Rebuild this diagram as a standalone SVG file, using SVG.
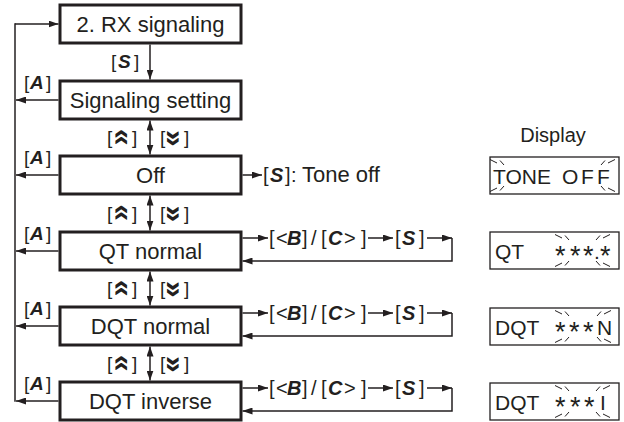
<svg xmlns="http://www.w3.org/2000/svg" xmlns:xlink="http://www.w3.org/1999/xlink" width="624" height="422" viewBox="0 0 624 422">
<defs>
<style>
.box{fill:#fff;stroke:#231f20;stroke-width:3}
.dbox{fill:#fff;stroke:#231f20;stroke-width:1.3}
.ln{fill:none;stroke:#231f20;stroke-width:1.5}
.ray{fill:none;stroke:#231f20;stroke-width:1}
text{font-family:"Liberation Sans",Arial,sans-serif;fill:#231f20}
.t{font-size:22px;text-anchor:middle}
.k{font-size:19px}
.r{font-size:20px}
.bi{font-weight:bold;font-style:italic}
.ch{font-size:30px;font-weight:bold}
.d{font-size:21px}
.ast{font-size:27px}
</style>
<marker id="ah" viewBox="0 0 10 7" refX="10" refY="3.5" markerWidth="10" markerHeight="7" markerUnits="userSpaceOnUse" orient="auto-start-reverse">
<path d="M0,0 L10,3.5 L0,7 z" fill="#231f20"/>
</marker>
<g id="rayL">
<path class="ray" d="M0,-16 L7,-12.5 M10,-15 L14,-10.5 M0,16 L7,12.5 M10,15 L14,10.5"/>
</g>
<g id="rayR">
<path class="ray" d="M-14,-10.5 L-10,-15 M-7,-12.5 L0,-16 M-14,10.5 L-10,15 M-7,12.5 L0,16"/>
</g>
</defs>
<rect width="624" height="422" fill="#fff"/>

<g id="connectors">
<path class="ln" d="M15,23.25 V401.75"/>
<path class="ln" d="M15,24 H58.5" marker-end="url(#ah)"/>
<path class="ln" d="M58.5,100 H16" marker-end="url(#ah)"/>
<path class="ln" d="M58.5,175 H16" marker-end="url(#ah)"/>
<path class="ln" d="M58.5,251 H16" marker-end="url(#ah)"/>
<path class="ln" d="M58.5,326 H16" marker-end="url(#ah)"/>
<path class="ln" d="M58.5,401 H16" marker-end="url(#ah)"/>
<path class="ln" d="M150,44.5 V79.5" marker-end="url(#ah)"/>
<path class="ln" d="M150,120.5 V154.5" marker-start="url(#ah)" marker-end="url(#ah)"/>
<path class="ln" d="M150,195.5 V230.5" marker-start="url(#ah)" marker-end="url(#ah)"/>
<path class="ln" d="M150,271.5 V305.5" marker-start="url(#ah)" marker-end="url(#ah)"/>
<path class="ln" d="M150,346.5 V380.5" marker-start="url(#ah)" marker-end="url(#ah)"/>
<path class="ln" d="M242.5,175 H262" marker-end="url(#ah)"/>
<path class="ln" d="M242.5,238 H268" marker-end="url(#ah)"/>
<path class="ln" d="M368,238 H393" marker-end="url(#ah)"/>
<path class="ln" d="M427,238 H452" marker-end="url(#ah)"/>
<path class="ln" d="M452,238 V261 H242.5" marker-end="url(#ah)"/>
<path class="ln" d="M242.5,313 H268" marker-end="url(#ah)"/>
<path class="ln" d="M368,313 H393" marker-end="url(#ah)"/>
<path class="ln" d="M427,313 H452" marker-end="url(#ah)"/>
<path class="ln" d="M452,313 V336 H242.5" marker-end="url(#ah)"/>
<path class="ln" d="M242.5,388 H268" marker-end="url(#ah)"/>
<path class="ln" d="M368,388 H393" marker-end="url(#ah)"/>
<path class="ln" d="M427,388 H452" marker-end="url(#ah)"/>
<path class="ln" d="M452,388 V411 H242.5" marker-end="url(#ah)"/>
</g>

<g id="labels">
<text class="k" y="68"><tspan x="111">[</tspan><tspan class="bi" x="118">S</tspan><tspan x="134">]</tspan></text>
<text class="k" y="89"><tspan x="24">[</tspan><tspan class="bi" x="30">A</tspan><tspan x="46">]</tspan></text>
<text class="k" y="164"><tspan x="24">[</tspan><tspan class="bi" x="30">A</tspan><tspan x="46">]</tspan></text>
<text class="k" y="240"><tspan x="24">[</tspan><tspan class="bi" x="30">A</tspan><tspan x="46">]</tspan></text>
<text class="k" y="315"><tspan x="24">[</tspan><tspan class="bi" x="30">A</tspan><tspan x="46">]</tspan></text>
<text class="k" y="390"><tspan x="24">[</tspan><tspan class="bi" x="30">A</tspan><tspan x="46">]</tspan></text>
<text class="k"><tspan x="107" y="144">[</tspan><tspan class="ch" x="129" y="145.5" rotate="-90">»</tspan><tspan x="132" y="144">]</tspan></text>
<text class="k"><tspan x="160" y="144">[</tspan><tspan class="ch" x="165" y="130" rotate="90">»</tspan><tspan x="184" y="144">]</tspan></text>
<text class="k"><tspan x="107" y="219.5">[</tspan><tspan class="ch" x="129" y="221" rotate="-90">»</tspan><tspan x="132" y="219.5">]</tspan></text>
<text class="k"><tspan x="160" y="219.5">[</tspan><tspan class="ch" x="165" y="205.5" rotate="90">»</tspan><tspan x="184" y="219.5">]</tspan></text>
<text class="k"><tspan x="107" y="295">[</tspan><tspan class="ch" x="129" y="296.5" rotate="-90">»</tspan><tspan x="132" y="295">]</tspan></text>
<text class="k"><tspan x="160" y="295">[</tspan><tspan class="ch" x="165" y="281" rotate="90">»</tspan><tspan x="184" y="295">]</tspan></text>
<text class="k"><tspan x="107" y="370">[</tspan><tspan class="ch" x="129" y="371.5" rotate="-90">»</tspan><tspan x="132" y="370">]</tspan></text>
<text class="k"><tspan x="160" y="370">[</tspan><tspan class="ch" x="165" y="356" rotate="90">»</tspan><tspan x="184" y="370">]</tspan></text>
<text class="r" y="181.5"><tspan x="263">[</tspan><tspan class="bi" x="270">S</tspan><tspan x="285 291">]:</tspan><tspan x="302" style="font-size:22px">Tone off</tspan></text>
<text class="r" y="244.5"><tspan x="269 276">[&lt;</tspan><tspan class="bi" x="287">B</tspan><tspan x="302 311 321">]/[</tspan><tspan class="bi" x="328">C</tspan><tspan x="344 361">&gt;]</tspan></text>
<text class="r" y="244.5"><tspan x="395">[</tspan><tspan class="bi" x="402">S</tspan><tspan x="419">]</tspan></text>
<text class="r" y="319.5"><tspan x="269 276">[&lt;</tspan><tspan class="bi" x="287">B</tspan><tspan x="302 311 321">]/[</tspan><tspan class="bi" x="328">C</tspan><tspan x="344 361">&gt;]</tspan></text>
<text class="r" y="319.5"><tspan x="395">[</tspan><tspan class="bi" x="402">S</tspan><tspan x="419">]</tspan></text>
<text class="r" y="394.5"><tspan x="269 276">[&lt;</tspan><tspan class="bi" x="287">B</tspan><tspan x="302 311 321">]/[</tspan><tspan class="bi" x="328">C</tspan><tspan x="344 361">&gt;]</tspan></text>
<text class="r" y="394.5"><tspan x="395">[</tspan><tspan class="bi" x="402">S</tspan><tspan x="419">]</tspan></text>
</g>

<g id="n1"><rect class="box" x="60" y="5" width="181" height="38"/><text class="t" x="150.5" y="32">2. RX signaling</text></g>
<g id="n2"><rect class="box" x="60" y="81" width="181" height="38"/><text class="t" x="150.5" y="108">Signaling setting</text></g>
<g id="n3"><rect class="box" x="60" y="156" width="181" height="38"/><text class="t" x="150.5" y="183">Off</text></g>
<g id="n4"><rect class="box" x="60" y="232" width="181" height="38"/><text class="t" x="150.5" y="259">QT normal</text></g>
<g id="n5"><rect class="box" x="60" y="307" width="181" height="38"/><text class="t" x="150.5" y="334">DQT normal</text></g>
<g id="n6"><rect class="box" x="60" y="382" width="181" height="38"/><text class="t" x="150.5" y="409">DQT inverse</text></g>

<g id="display">
<text x="553" y="142" style="font-size:20px;text-anchor:middle">Display</text>
<g id="d1">
<rect class="dbox" x="490" y="157" width="129" height="37"/>
<text class="d" y="183.5"><tspan x="493">TONE</tspan><tspan x="562 581 597">OFF</tspan></text>
<use xlink:href="#rayL" x="490" y="175.5"/>
<use xlink:href="#rayR" x="615" y="175.5"/>
</g>
<g id="d2">
<rect class="dbox" x="490" y="232" width="129" height="37"/>
<text class="d" y="258.5"><tspan x="495">QT</tspan><tspan class="ast" x="555 570 583" y="264.8">***</tspan><tspan x="594" y="258.5">.</tspan><tspan class="ast" x="600" y="264.8">*</tspan></text>
<use xlink:href="#rayL" x="555" y="250.5"/>
<use xlink:href="#rayR" x="610" y="250.5"/>
</g>
<g id="d3">
<rect class="dbox" x="490" y="308" width="129" height="37"/>
<text class="d" y="334.5"><tspan x="495">DQT</tspan><tspan class="ast" x="555 569 583" y="340.8">***</tspan><tspan x="597" y="334.5">N</tspan></text>
<use xlink:href="#rayL" x="555" y="326.5"/>
<use xlink:href="#rayR" x="611" y="326.5"/>
</g>
<g id="d4">
<rect class="dbox" x="490" y="383" width="129" height="37"/>
<text class="d" y="409.5"><tspan x="495">DQT</tspan><tspan class="ast" x="555 570 584" y="415.8">***</tspan><tspan x="600" y="409.5">I</tspan></text>
<use xlink:href="#rayL" x="555" y="401.5"/>
<use xlink:href="#rayR" x="610" y="401.5"/>
</g>
</g>
</svg>
